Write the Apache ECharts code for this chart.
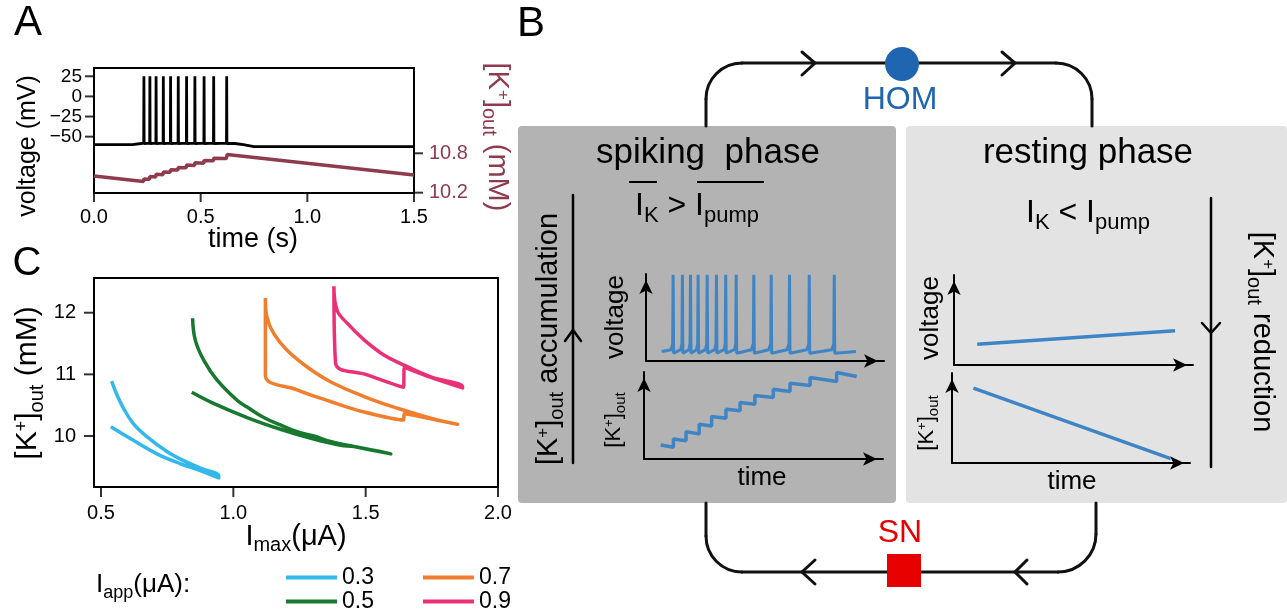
<!DOCTYPE html>
<html>
<head>
<meta charset="utf-8">
<script src="https://cdn.jsdelivr.net/npm/echarts@6/dist/echarts.min.js"></script>
<style>
  html, body { margin: 0; padding: 0; background: #fff; }
  #chart { width: 1287px; height: 615px; }
</style>
</head>
<body>
<div id="chart"></div>
<script>
const FONT = '"Liberation Sans", Arial, sans-serif';

// ---- panel A: voltage and [K+]out over time
const timeTicks = [0, 0.5, 1.0, 1.5];
const voltageTicks = [-50, -25, 0, 25];
const kOutTicksA = [10.2, 10.8];
const voltageTrace = [
  [0, -60], [0.18, -60], [0.22, -58.5],
  [0.233, -58], [0.234, 25], [0.235, -58.5],
  [0.261, -58], [0.262, 25], [0.263, -58.5],
  [0.290, -58], [0.291, 25], [0.292, -58.5],
  [0.324, -58], [0.325, 25], [0.326, -58.5],
  [0.358, -58], [0.359, 25], [0.360, -58.5],
  [0.394, -58], [0.395, 25], [0.396, -58.5],
  [0.433, -58], [0.434, 25], [0.435, -58.5],
  [0.472, -58], [0.473, 25], [0.474, -58.5],
  [0.515, -58], [0.516, 25], [0.517, -58.5],
  [0.560, -58], [0.561, 25], [0.562, -58.5],
  [0.621, -58], [0.622, 25], [0.623, -58.5],
  [0.66, -58.5], [0.70, -60], [0.75, -62.5], [1.5, -62.5]
];
const kOutTrace = [
  [0, 10.455], [0.232, 10.37], [0.234, 10.41], [0.260, 10.405], [0.262, 10.445],
  [0.289, 10.44], [0.291, 10.48], [0.323, 10.475], [0.325, 10.515], [0.357, 10.51],
  [0.359, 10.55], [0.393, 10.545], [0.395, 10.585], [0.432, 10.58], [0.434, 10.62],
  [0.471, 10.615], [0.473, 10.655], [0.514, 10.65], [0.516, 10.69], [0.559, 10.685],
  [0.561, 10.725], [0.620, 10.72], [0.624, 10.78], [1.5, 10.47]
];

// ---- panel C: [K+]out vs I_max for several I_app
const imaxTicks = [0.5, 1.0, 1.5, 2.0];
const kOutTicksC = [10, 11, 12];
const iappNames = ['0.3', '0.5', '0.7', '0.9'];
const iapp03 = [
  [0.540, 10.89], [0.559, 10.68], [0.585, 10.45], [0.622, 10.20], [0.673, 9.99],
  [0.749, 9.75], [0.812, 9.60], [0.875, 9.48], [0.945, 9.35],
  [0.945, 9.32], [0.875, 9.44], [0.800, 9.55], [0.711, 9.71], [0.622, 9.93], [0.537, 10.15]
];
const iapp05 = [
  [0.846, 11.91], [0.856, 11.56], [0.888, 11.23], [0.938, 10.91], [1.014, 10.58],
  [1.052, 10.47], [1.115, 10.30], [1.178, 10.18], [1.241, 10.07], [1.304, 10.00],
  [1.367, 9.91], [1.456, 9.83], [1.595, 9.71],
  [1.595, 9.72], [1.456, 9.83], [1.405, 9.85], [1.304, 9.95], [1.178, 10.11],
  [1.052, 10.30], [0.925, 10.53], [0.843, 10.71]
];
// corner points are listed twice so that the smoothing keeps them sharp
const iapp07 = [
  [1.121, 12.24], [1.121, 10.99], [1.121, 10.99], [1.241, 10.75], [1.367, 10.56], [1.494, 10.39],
  [1.643, 10.26], [1.643, 10.26], [1.646, 10.36], [1.646, 10.36], [1.746, 10.28], [1.847, 10.19],
  [1.847, 10.20], [1.746, 10.29], [1.620, 10.45], [1.494, 10.64], [1.367, 10.88],
  [1.279, 11.12], [1.203, 11.39], [1.153, 11.66], [1.127, 11.93], [1.121, 12.24]
];
const iapp09 = [
  [1.380, 12.43], [1.386, 11.19], [1.386, 11.19], [1.506, 10.99], [1.643, 10.79], [1.643, 10.79],
  [1.646, 11.11], [1.646, 11.11], [1.746, 10.95], [1.866, 10.78],
  [1.866, 10.80], [1.746, 10.96], [1.645, 11.15], [1.570, 11.31], [1.494, 11.56],
  [1.430, 11.83], [1.392, 12.04], [1.380, 12.43]
];

// ---- panel B: schematic insets (arbitrary units 0..100)
const spikingVoltage = [
  [6.6, 11], [10.6, 13], [11.2, 20], [11.4, 99], [11.6, 9], [12.3, 11],
  [14.6, 13], [15.1, 20], [15.3, 99], [15.5, 9], [16.2, 11],
  [18.0, 13], [18.5, 20], [18.7, 99], [18.9, 9], [19.6, 11],
  [21.2, 13], [21.7, 20], [21.9, 99], [22.1, 9], [22.8, 11],
  [25.0, 13], [25.5, 20], [25.7, 99], [25.9, 9], [26.6, 11],
  [28.9, 13], [29.4, 20], [29.6, 99], [29.8, 9], [30.5, 11],
  [32.8, 13], [33.3, 20], [33.5, 99], [33.7, 9], [34.4, 11],
  [37.2, 13], [37.7, 20], [37.9, 99], [38.1, 9], [38.8, 11],
  [44.3, 13], [45.1, 20], [45.3, 99], [45.5, 9], [46.2, 11],
  [51.6, 13], [52.4, 20], [52.6, 99], [52.8, 9], [53.5, 11],
  [59.3, 13], [60.1, 20], [60.3, 99], [60.5, 9], [61.2, 11],
  [67.6, 13], [68.4, 20], [68.6, 99], [68.8, 9], [69.5, 11],
  [78.1, 13], [78.9, 20], [79.1, 99], [79.3, 9], [80.0, 11],
  [88.2, 11]
];
const spikingKOut = [
  [7.0, 16.5], [12.3, 13.7], [12.3, 23.5], [17.6, 21.5], [17.6, 32.1], [23.1, 29.4],
  [23.1, 40.7], [28.3, 38.8], [28.3, 49.8], [34.3, 47.8], [34.3, 58.4], [40.2, 56.5],
  [40.2, 66.2], [46.4, 64.2], [46.4, 74.5], [54.1, 72.1], [54.1, 81.9], [61.1, 79.2],
  [61.1, 88.9], [69.5, 86.2], [69.5, 95.6], [80.6, 90.9], [80.6, 101.5], [89.0, 96.8]
];
const restingVoltage = [[9.7, 23], [92.5, 38.1]];
const restingKOut = [[9.0, 83.3], [91.9, 4.9]];

const C_BLUE = '#33B8EC', C_GREEN = '#17782F', C_ORANGE = '#F07E2F', C_PINK = '#EA3077';
const C_KOUT = '#8E3B4D';
const C_INSET = '#3F85C5';

// axis ranges of the two real plots
const T_RANGE = [0, 1.5], V_RANGE = [-120, 35.3], KA_RANGE = [10.195, 12.1];
const I_RANGE = [0.4735, 2.0], KC_RANGE = [9.173, 12.563];

// rich text styles for sub/superscripts
function richSet(F, color) {
  const f = Math.round(F * 0.68), s = Math.round(F * 0.6);
  const base = { fontFamily: FONT, fill: color, color: color };
  return {
    n: Object.assign({ fontSize: F, lineHeight: F, verticalAlign: 'top' }, base),
    sub: Object.assign({ fontSize: f, lineHeight: f, verticalAlign: 'top',
      padding: [Math.round(1.02 * F - 0.82 * f), 0, 0, 0] }, base),
    sup: Object.assign({ fontSize: s, lineHeight: s, verticalAlign: 'top' }, base)
  };
}

function label(x, y, text, F, opt) {
  opt = opt || {};
  const color = opt.color || '#000';
  return {
    type: 'text', x: x, y: y, rotation: opt.rotation || 0, z: 10,
    style: {
      text: text, rich: richSet(F, color), fontSize: F, fontFamily: FONT, fill: color,
      align: opt.align || 'center', verticalAlign: 'middle'
    }
  };
}

function stroke(points, w, color) {
  return { type: 'polyline', z: 5, shape: { points: points },
    style: { stroke: color || '#111', lineWidth: w || 3, fill: null, lineCap: 'round' } };
}

function corner(x1, y1, cx1, cy1, cx2, cy2, x2, y2) {
  return { type: 'bezierCurve', z: 5,
    shape: { x1: x1, y1: y1, cpx1: cx1, cpy1: cy1, cpx2: cx2, cpy2: cy2, x2: x2, y2: y2 },
    style: { stroke: '#111', lineWidth: 3, fill: null, lineCap: 'round' } };
}

const KOUT = '{n|[K}{sup|+}{n|]}{sub|out}';

const diagram = [
  { type: 'rect', z: -10, shape: { x: 518, y: 126, width: 378, height: 377, r: 4 }, style: { fill: '#B3B3B3' } },
  { type: 'rect', z: -10, shape: { x: 906, y: 126, width: 381, height: 377, r: 4 }, style: { fill: '#E3E3E3' } },
  // top loop
  stroke([[706, 126], [706, 99]]),
  corner(706, 99, 706, 79, 722, 63, 742, 63),
  stroke([[742, 63], [1056, 63]]),
  corner(1056, 63, 1076, 63, 1092, 79, 1092, 99),
  stroke([[1092, 99], [1092, 126]]),
  // bottom loop
  stroke([[706, 503], [706, 536]]),
  corner(706, 536, 706, 556, 722, 572, 742, 572),
  stroke([[742, 572], [1058, 572]]),
  corner(1058, 572, 1079, 572, 1096, 555, 1096, 534),
  stroke([[1096, 534], [1096, 503]]),
  stroke([[802, 52], [815, 63], [802, 75]]),
  stroke([[1002, 52], [1015, 63], [1002, 75]]),
  stroke([[815, 560], [802, 572], [815, 584]]),
  stroke([[1027, 560], [1015, 572], [1027, 584]]),
  { type: 'circle', z: 6, shape: { cx: 902, cy: 64, r: 17 }, style: { fill: '#1F65B0' } },
  { type: 'rect', z: 6, shape: { x: 887, y: 554, width: 34, height: 33 }, style: { fill: '#E60000' } },
  label(900, 100, '{n|HOM}', 32, { color: '#1F65B0' }),
  label(900, 533, '{n|SN}', 32, { color: '#E60000' }),
  // spiking box
  label(708, 153, '{n|spiking  phase}', 35),
  label(697, 206, '{n|I}{sub|K}{n| > I}{sub|pump}', 32),
  { type: 'line', z: 10, shape: { x1: 629, y1: 182, x2: 657, y2: 182 }, style: { stroke: '#000', lineWidth: 2 } },
  { type: 'line', z: 10, shape: { x1: 697, y1: 182, x2: 764, y2: 182 }, style: { stroke: '#000', lineWidth: 2 } },
  stroke([[573, 195], [573, 463]], 2.5, '#000'),
  stroke([[565, 341], [573, 330], [581, 341]], 2.5, '#000'),
  label(549, 339, KOUT + '{n| accumulation}', 29, { rotation: Math.PI / 2 }),
  label(616, 317, '{n|voltage}', 26, { rotation: Math.PI / 2 }),
  label(614, 420, KOUT, 22, { rotation: Math.PI / 2 }),
  label(762, 478, '{n|time}', 26),
  // resting box
  label(1088, 153, '{n|resting phase}', 35),
  label(1088, 213, '{n|I}{sub|K}{n| < I}{sub|pump}', 32),
  stroke([[1211, 198], [1211, 467]], 2.5, '#000'),
  stroke([[1202, 323], [1211, 333], [1220, 323]], 2.5, '#000'),
  label(1262, 332, KOUT + '{n| reduction}', 29, { rotation: -Math.PI / 2 }),
  label(931, 318, '{n|voltage}', 26, { rotation: Math.PI / 2 }),
  label(927, 423, KOUT, 22, { rotation: Math.PI / 2 }),
  label(1072, 482, '{n|time}', 26),
  // panel letters and axis titles
  label(28, 23, '{n|A}', 42),
  label(531, 24, '{n|B}', 42),
  label(27, 264, '{n|C}', 40),
  label(28, 146, '{n|voltage (mV)}', 25, { rotation: Math.PI / 2 }),
  label(253, 240, '{n|time (s)}', 27),
  label(497, 137, KOUT + '{n| (mM)}', 29, { rotation: -Math.PI / 2, color: C_KOUT }),
  label(28, 383, KOUT + '{n| (mM)}', 30, { rotation: Math.PI / 2 }),
  label(296, 537, '{n|I}{sub|max}{n|(μA)}', 29),
  label(96, 585, '{n|I}{sub|app}{n|(μA):}', 26, { align: 'left' })
];

const frameLine = { color: '#000', width: 2 };
const tickFont = { color: '#000', fontFamily: FONT };

function plotAxis(gi, range, values, extra) {
  return Object.assign({
    gridIndex: gi, type: 'value', min: range[0], max: range[1],
    axisLine: { show: true, onZero: false, lineStyle: frameLine },
    axisTick: { show: false },
    splitLine: { show: false }
  }, extra, { axisLabel: Object.assign({ customValues: values }, tickFont, extra.axisLabel) });
}

// short outward tick marks, placed on the axes through the axis scales
function tickMarks(xi, yi, data, size, offset) {
  return { type: 'scatter', xAxisIndex: xi, yAxisIndex: yi, data: data, clip: false, silent: true,
    symbol: 'rect', symbolSize: size, symbolOffset: offset, itemStyle: { color: '#000' }, z: 5 };
}

function insetAxis(gi, max) {
  return {
    gridIndex: gi, type: 'value', min: 0, max: max || 100,
    axisLine: { show: true, onZero: false, symbol: ['none', 'arrow'], symbolSize: [10, 14],
      symbolOffset: [0, -6], lineStyle: { color: '#000', width: 2 } },
    axisTick: { show: false }, axisLabel: { show: false }, splitLine: { show: false }
  };
}

function iappSeries(name, data, color) {
  return {
    name: name, type: 'line', xAxisIndex: 1, yAxisIndex: 2, data: data, color: color,
    smooth: 0.4, showSymbol: false, silent: true, lineStyle: { color: color, width: 3.5, join: 'round' }
  };
}

const legendBase = {
  orient: 'vertical', top: 566, icon: 'rect', padding: 0, height: 50,
  itemWidth: 51, itemHeight: 4, itemGap: 1, selectedMode: false,
  textStyle: { fontSize: 23, lineHeight: 22, color: '#000', fontFamily: FONT }
};

const chart = echarts.init(document.getElementById('chart'), null, { renderer: 'canvas' });

const option = {
  animation: false,
  backgroundColor: '#fff',
  textStyle: { fontFamily: FONT },
  grid: [
    { left: 94, top: 68, width: 320, height: 125, show: true, borderColor: '#000', borderWidth: 2, backgroundColor: 'transparent' },
    { left: 94, top: 278, width: 404, height: 209, show: true, borderColor: '#000', borderWidth: 2, backgroundColor: 'transparent' },
    { left: 646, top: 274, width: 238, height: 87 },
    { left: 644, top: 372, width: 239, height: 87 },
    { left: 954, top: 275, width: 239, height: 90 },
    { left: 952, top: 373, width: 238, height: 90 }
  ],
  xAxis: [
    plotAxis(0, T_RANGE, timeTicks, { position: 'bottom', interval: 0.5,
      axisLabel: { fontSize: 20, margin: 14, formatter: v => v.toFixed(1) } }),
    plotAxis(1, I_RANGE, imaxTicks, { position: 'bottom',
      axisLabel: { fontSize: 20, margin: 16, formatter: v => v.toFixed(1) } }),
    insetAxis(2), insetAxis(3), insetAxis(4), insetAxis(5)
  ],
  yAxis: [
    plotAxis(0, V_RANGE, voltageTicks, { position: 'left',
      axisLabel: { fontSize: 19, margin: 12, formatter: v => (v < 0 ? '\u2212' + Math.abs(v) : String(v)) } }),
    plotAxis(0, KA_RANGE, kOutTicksA, { position: 'right',
      axisLabel: { fontSize: 20, margin: 15, color: C_KOUT, formatter: v => v.toFixed(1) } }),
    plotAxis(1, KC_RANGE, kOutTicksC, { position: 'left',
      axisLabel: { fontSize: 20, margin: 18 } }),
    insetAxis(2), insetAxis(3, 102), insetAxis(4), insetAxis(5)
  ],
  legend: [
    Object.assign({ data: [iappNames[0], iappNames[1]], left: 286 }, legendBase),
    Object.assign({ data: [iappNames[2], iappNames[3]], left: 423 }, legendBase)
  ],
  graphic: { elements: diagram },
  series: [
    { name: 'voltage', type: 'line', xAxisIndex: 0, yAxisIndex: 0, data: voltageTrace,
      showSymbol: false, silent: true, lineStyle: { color: '#000', width: 2.8 } },
    { name: 'kout', type: 'line', xAxisIndex: 0, yAxisIndex: 1, data: kOutTrace,
      showSymbol: false, silent: true, lineStyle: { color: C_KOUT, width: 3.5 } },
    iappSeries(iappNames[0], iapp03, C_BLUE),
    iappSeries(iappNames[1], iapp05, C_GREEN),
    iappSeries(iappNames[2], iapp07, C_ORANGE),
    iappSeries(iappNames[3], iapp09, C_PINK),
    { type: 'line', xAxisIndex: 2, yAxisIndex: 3, data: spikingVoltage, showSymbol: false, silent: true,
      lineStyle: { color: C_INSET, width: 3 } },
    { type: 'line', xAxisIndex: 3, yAxisIndex: 4, data: spikingKOut, showSymbol: false, silent: true,
      lineStyle: { color: C_INSET, width: 3.5 } },
    { type: 'line', xAxisIndex: 4, yAxisIndex: 5, data: restingVoltage, showSymbol: false, silent: true,
      lineStyle: { color: C_INSET, width: 3.5 } },
    { type: 'line', xAxisIndex: 5, yAxisIndex: 6, data: restingKOut, showSymbol: false, silent: true,
      lineStyle: { color: C_INSET, width: 3.5 } },
    // tick marks
    tickMarks(0, 0, timeTicks.map(t => [t, V_RANGE[0]]), [2, 8], [0, 5]),
    tickMarks(0, 0, voltageTicks.map(v => [T_RANGE[0], v]), [8, 2], [-5, 0]),
    tickMarks(0, 1, kOutTicksA.map(k => [T_RANGE[1], k]), [8, 2], [5, 0]),
    tickMarks(1, 2, imaxTicks.map(i => [i, KC_RANGE[0]]), [2, 9], [0, 5.5]),
    tickMarks(1, 2, kOutTicksC.map(k => [I_RANGE[0], k]), [9, 2], [-5.5, 0])
  ]
};

chart.setOption(option);
</script>
</body>
</html>
